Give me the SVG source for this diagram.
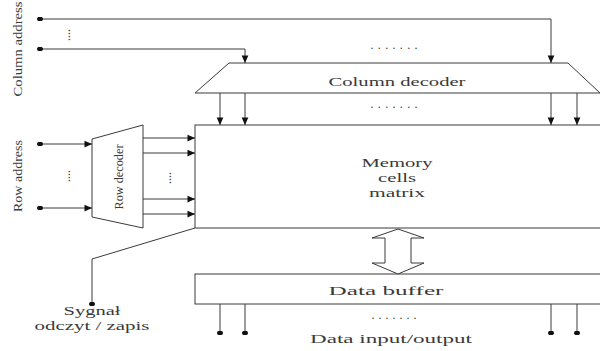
<svg xmlns="http://www.w3.org/2000/svg" width="600" height="351" viewBox="0 0 600 351">
<style>
.ln{fill:none;stroke:#3a3a3a;stroke-width:1}
.sh{fill:#fff;stroke:#3a3a3a;stroke-width:1}
.t{font-family:"Liberation Serif","Times New Roman",serif;fill:#3a3a3a;font-size:13px}
.d{font-family:"Liberation Serif","Times New Roman",serif;fill:#3a3a3a;font-size:12px}
</style>
<defs>
<marker id="arr" viewBox="0 0 10 10" refX="10" refY="5" markerWidth="8" markerHeight="7.5" markerUnits="userSpaceOnUse" orient="auto">
<path d="M0,0.5 L10,5 L0,9.5 z" fill="#111"/>
</marker>
<marker id="dot" viewBox="0 0 8 6" refX="4" refY="3" markerWidth="6" markerHeight="4.5" markerUnits="userSpaceOnUse">
<ellipse cx="4" cy="3" rx="4" ry="3" fill="#111"/>
</marker>
</defs>
<rect width="600" height="351" fill="#fff"/>

<g id="column-decoder">
<polygon class="sh" points="229,63 568,63 600,93 195,93"/>
<text class="t" x="397" y="86" text-anchor="middle" textLength="137" lengthAdjust="spacingAndGlyphs">Column decoder</text>
</g>

<g id="memory-matrix">
<rect class="sh" x="195" y="125" width="410" height="103"/>
<text class="t" x="397" y="167" text-anchor="middle" textLength="71" lengthAdjust="spacingAndGlyphs">Memory</text>
<text class="t" x="397" y="182" text-anchor="middle" textLength="38" lengthAdjust="spacingAndGlyphs">cells</text>
<text class="t" x="397" y="197" text-anchor="middle" textLength="56" lengthAdjust="spacingAndGlyphs">matrix</text>
</g>

<g id="row-decoder">
<polygon class="sh" points="92,139 143,125 143,228 92,217"/>
<text class="t" transform="translate(123,177) rotate(-90)" text-anchor="middle" textLength="65" lengthAdjust="spacingAndGlyphs">Row decoder</text>
</g>

<g id="data-buffer">
<rect class="sh" x="195" y="274" width="410" height="30"/>
<text class="t" x="386" y="295" text-anchor="middle" textLength="115" lengthAdjust="spacingAndGlyphs">Data buffer</text>
</g>

<g id="labels">
<text class="t" transform="translate(22,49) rotate(-90)" text-anchor="middle" textLength="95" lengthAdjust="spacingAndGlyphs">Column address</text>
<text class="t" transform="translate(22,176) rotate(-90)" text-anchor="middle" textLength="72" lengthAdjust="spacingAndGlyphs">Row address</text>
<text class="t" x="92" y="315" text-anchor="middle" textLength="57" lengthAdjust="spacingAndGlyphs">Sygnał</text>
<text class="t" x="92" y="330" text-anchor="middle" textLength="115" lengthAdjust="spacingAndGlyphs">odczyt / zapis</text>
<text class="t" x="391" y="343" text-anchor="middle" textLength="162" lengthAdjust="spacingAndGlyphs">Data input/output</text>
<text class="d" x="394" y="49" text-anchor="middle" textLength="47" lengthAdjust="spacing">.......</text>
<text class="d" x="394" y="108" text-anchor="middle" textLength="47" lengthAdjust="spacing">.......</text>
<text class="d" x="394" y="319" text-anchor="middle" textLength="45" lengthAdjust="spacing">.......</text>
<text class="d" transform="translate(70,35) rotate(-90)" text-anchor="middle">....</text>
<text class="d" transform="translate(70,176) rotate(-90)" text-anchor="middle">....</text>
<text class="d" transform="translate(171,178) rotate(-90)" text-anchor="middle">....</text>
</g>

<g id="connectors">
<polyline class="ln" points="40,19 551,19 551,63" marker-start="url(#dot)" marker-end="url(#arr)"/>
<polyline class="ln" points="40,49 245,49 245,63" marker-start="url(#dot)" marker-end="url(#arr)"/>
<line class="ln" x1="220" y1="93" x2="220" y2="125" marker-end="url(#arr)"/>
<line class="ln" x1="245" y1="93" x2="245" y2="125" marker-end="url(#arr)"/>
<line class="ln" x1="551" y1="93" x2="551" y2="125" marker-end="url(#arr)"/>
<line class="ln" x1="577" y1="93" x2="577" y2="125" marker-end="url(#arr)"/>
<line class="ln" x1="40" y1="144" x2="92" y2="144" marker-start="url(#dot)" marker-end="url(#arr)"/>
<line class="ln" x1="40" y1="208" x2="92" y2="208" marker-start="url(#dot)" marker-end="url(#arr)"/>
<line class="ln" x1="143" y1="138" x2="195" y2="138" marker-end="url(#arr)"/>
<line class="ln" x1="143" y1="153" x2="195" y2="153" marker-end="url(#arr)"/>
<line class="ln" x1="143" y1="199" x2="195" y2="199" marker-end="url(#arr)"/>
<line class="ln" x1="143" y1="214" x2="195" y2="214" marker-end="url(#arr)"/>
<polyline class="ln" points="195,228 92,259 92,304" marker-end="url(#dot)"/>
<polygon class="sh" points="398,229 424,238 411,238 411,263 424,263 398,274 372,263 385,263 385,238 372,238"/>
<line class="ln" x1="220" y1="304" x2="220" y2="333" marker-end="url(#dot)"/>
<line class="ln" x1="245" y1="304" x2="245" y2="333" marker-end="url(#dot)"/>
<line class="ln" x1="551" y1="304" x2="551" y2="333" marker-end="url(#dot)"/>
<line class="ln" x1="577" y1="304" x2="577" y2="333" marker-end="url(#dot)"/>
</g>
</svg>
